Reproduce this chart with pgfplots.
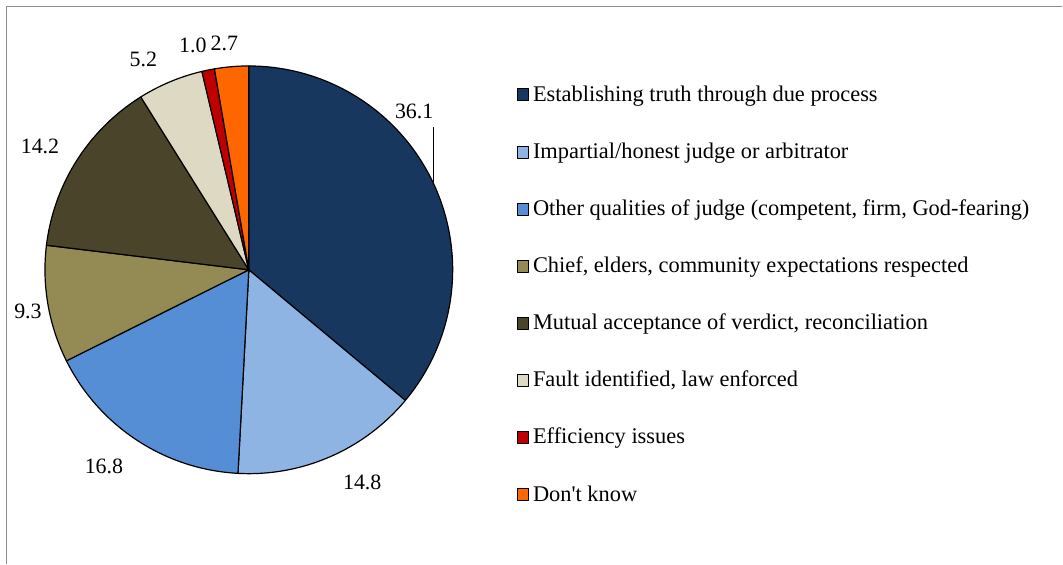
\documentclass[border=0pt]{standalone}
\usepackage{fontspec}
\setmainfont{Liberation Serif}
\usepackage{pgfplots}
\usepackage{pgfplotstable}
\pgfplotsset{compat=1.18}
\definecolor{c0}{HTML}{17375E}
\definecolor{c1}{HTML}{8EB4E3}
\definecolor{c2}{HTML}{558ED5}
\definecolor{c3}{HTML}{948A54}
\definecolor{c4}{HTML}{4A452A}
\definecolor{c5}{HTML}{DDD9C3}
\definecolor{c6}{HTML}{C00000}
\definecolor{c7}{HTML}{FF6600}
\definecolor{framegray}{HTML}{8C8C8C}
\pgfplotstableread{
v
36.1
14.8
16.8
9.3
14.2
5.2
1.0
2.7
}\piedata
\newcommand\lf{\fontsize{22}{26}\selectfont}
\newcommand\legf{\fontsize{22.5}{27}\selectfont}
\begin{document}
\begin{tikzpicture}
\def\total{0}
\pgfplotsforeachungrouped \i in {0,...,7}{%
  \pgfplotstablegetelem{\i}{v}\of\piedata
  \pgfmathsetmacro\total{\total+\pgfplotsretval}%
}
\begin{axis}[
  x=1bp, y=1bp, xmin=0, xmax=1063, ymin=0, ymax=564, y dir=reverse,
  hide axis, clip=false,
  legend image code/.code={\draw[#1, draw=black, line width=0.9bp] (0bp,-6bp) rectangle (11.5bp,6bp);},
  legend style={draw=none, fill=none, at={(axis cs:517,83.3)}, anchor=north west,
     font=\legf, inner sep=0pt, outer sep=0pt,
     row sep=33.7bp, column sep=4bp,
     nodes={inner sep=0pt, text height=18.4bp, text depth=5bp}},
  legend cell align=left,
]
\path (axis cs:0,0) rectangle (axis cs:1063,564);
\draw[framegray, line width=1.5bp] (axis cs:6.5,564) -- (axis cs:6.5,6.5) -- (axis cs:1063,6.5);
\def\cum{0}
\pgfplotsforeachungrouped \i in {0,...,7}{%
  \pgfplotstablegetelem{\i}{v}\of\piedata
  \pgfmathsetmacro\sa{-90+\cum/\total*360}%
  \pgfmathsetmacro\cum{\cum+\pgfplotsretval}%
  \pgfmathsetmacro\sb{-90+\cum/\total*360}%
  \edef\doplot{\noexpand\addplot[fill=c\i, draw=black, line width=1.2bp, line join=round, domain=\sa:\sb, samples=90, variable=\noexpand\t]
     ({249+204*cos(\noexpand\t)}, {270+204*sin(\noexpand\t)}) -- (axis cs:249,270) -- cycle;}%
  \doplot
}
\legend{Establishing truth through due process,
  Impartial/honest judge or arbitrator,
  {Other qualities of judge (competent, firm, God-fearing)},
  {Chief, elders, community expectations respected},
  {Mutual acceptance of verdict, reconciliation},
  {Fault identified, law enforced},
  Efficiency issues,
  Don\textquotesingle t know}
\draw[black, line width=1.2bp] (axis cs:433.5,127) -- (axis cs:433.5,182);
\node[anchor=base, font=\lf, inner sep=0pt] at (axis cs:414.5,119) {36.1};
\node[anchor=base, font=\lf, inner sep=0pt] at (axis cs:362.5,490) {14.8};
\node[anchor=base, font=\lf, inner sep=0pt] at (axis cs:104,473.5) {16.8};
\node[anchor=base, font=\lf, inner sep=0pt] at (axis cs:28,319) {9.3};
\node[anchor=base, font=\lf, inner sep=0pt] at (axis cs:40,154) {14.2};
\node[anchor=base, font=\lf, inner sep=0pt] at (axis cs:143.5,66.5) {5.2};
\node[anchor=base, font=\lf, inner sep=0pt] at (axis cs:193,53) {1.0};
\node[anchor=base, font=\lf, inner sep=0pt] at (axis cs:224.5,51) {2.7};
\end{axis}
\end{tikzpicture}
\end{document}
